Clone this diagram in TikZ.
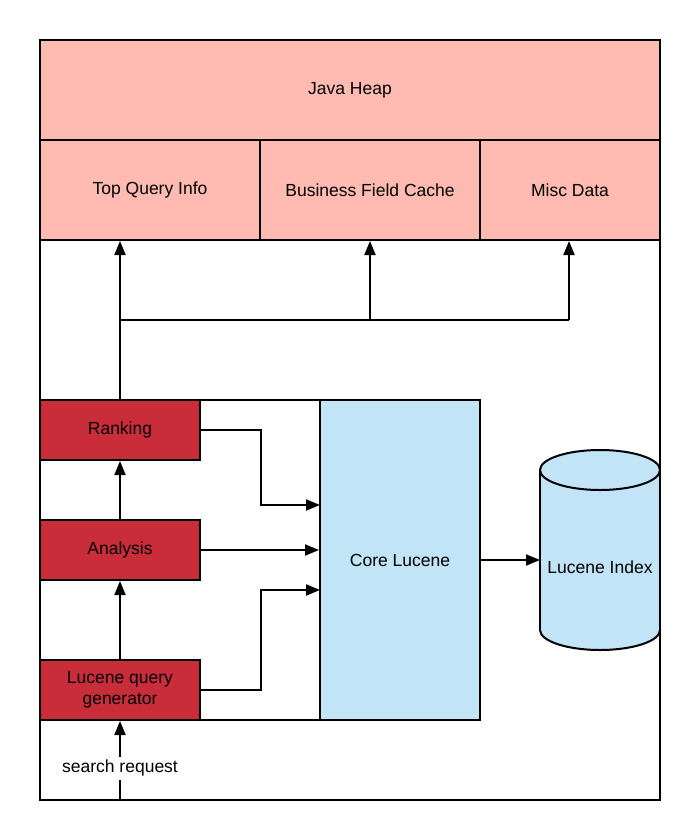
\documentclass[tikz,border=0pt]{standalone}
\usepackage{fontspec}
\setmainfont{Liberation Sans}
\usetikzlibrary{arrows.meta}
\definecolor{heap}{HTML}{FFBBB1}
\definecolor{redbox}{HTML}{C92D39}
\definecolor{bluebox}{HTML}{C1E4F7}
\begin{document}
\begin{tikzpicture}[x=1pt,y=-1pt,line width=2pt,
  font=\fontsize{17.5}{21}\selectfont,
  box/.style={draw=black,rectangle,inner sep=0pt,align=center},
  heapbox/.style={box,fill=heap,minimum height=100pt},
  redbx/.style={box,fill=redbox,minimum width=160pt,minimum height=60pt},
  arr/.style={-{Triangle[length=14pt,width=11pt]}}]
\useasboundingbox (0,0) rectangle (700,840);
\fill[white] (0,0) rectangle (700,840);
% outer frame
\draw (40,40) rectangle (660,800);
% heap
\node[heapbox,minimum width=620pt] (heap) at (350,90) {Java Heap};
\node[heapbox,minimum width=220pt] (tqi) at (150,190) {Top Query Info};
\node[heapbox,minimum width=220pt] (bfc) at (370,190) {Business Field Cache};
\node[heapbox,minimum width=180pt] (misc) at (570,190) {Misc Data};
% engine container
\node[box,fill=white,minimum width=440pt,minimum height=320pt] (engine) at (260,560) {};
\node[redbx] (rank) at (120,430) {Ranking};
\node[redbx] (ana) at (120,550) {Analysis};
\node[redbx] (lqg) at (120,690) {Lucene query\\generator};
\node[box,fill=bluebox,minimum width=160pt,minimum height=320pt] (core) at (400,560) {Core Lucene};
% cylinder
\filldraw[fill=bluebox] (600,630) ellipse[x radius=60,y radius=20];
\fill[bluebox] (540,470) rectangle (660,630);
\draw (540,470) -- (540,630);
\draw (660,470) -- (660,630);
\filldraw[fill=bluebox] (600,470) ellipse[x radius=60,y radius=20];
\node (idx) at (600,567) {Lucene Index};
% coordinates
\coordinate (j1) at (120,320);
\coordinate (j3) at (569,320);
\coordinate (in1) at (320,505);
\coordinate (in3) at (320,590);
\coordinate (idxin) at (540,560);
\coordinate (src) at (120,800);
% connectors
\draw[arr] (rank.north) -- (rank.north |- tqi.south);
\draw (j1) -- (j3);
\draw[arr] (bfc.south |- j1) -- (bfc.south);
\draw[arr] (j3) -- (j3 |- misc.south);
\draw[arr] (ana.north) -- (rank.south);
\draw[arr] (lqg.north) -- (ana.south);
\draw[arr] (rank.east) -- ++(60,0) |- (in1);
\draw[arr] (ana.east) -- (core.west |- ana.east);
\draw[arr] (lqg.east) -- ++(60,0) |- (in3);
\draw[arr] (core.east) -- (idxin);
\draw[arr] (src) -- (lqg.south) node[pos=0.4,fill=white,inner sep=3pt] {search request};
\end{tikzpicture}
\end{document}
